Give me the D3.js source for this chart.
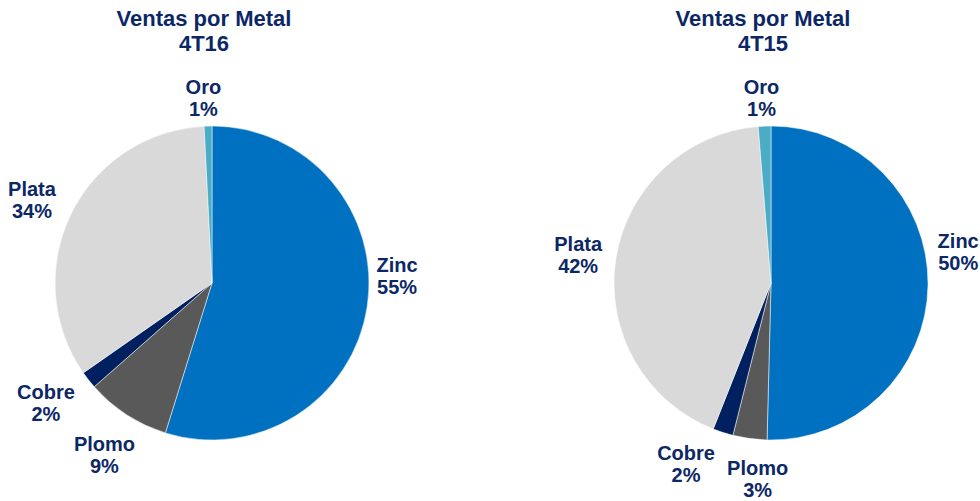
<!DOCTYPE html>
<html>
<head>
<meta charset="utf-8">
<script src="https://cdn.jsdelivr.net/npm/d3@7"></script>
<style>
  body { margin: 0; background: #fff; }
  text { font-family: "Liberation Sans", Arial, sans-serif; font-weight: bold; fill: #0c2766; }
</style>
</head>
<body>
<div id="chart"></div>
<script>
var svgWidth = 980;
var svgHeight = 501;

// Data (clockwise from 12 o'clock)
var metals = ["Zinc", "Plomo", "Cobre", "Plata", "Oro"];
var values4T16 = [54.8, 8.7, 1.8, 33.9, 0.8];
var values4T15 = [50.4, 3.5, 2.1, 42.7, 1.3];
var labels4T16 = ["55%", "9%", "2%", "34%", "1%"];
var labels4T15 = ["50%", "3%", "2%", "42%", "1%"];
var colors = ["#0070c0", "#595959", "#002060", "#d9d9d9", "#4bacc6"];

var radius = 157;

var svg = d3.select("#chart")
    .append("svg")
    .attr("width", svgWidth)
    .attr("height", svgHeight);

var pie = d3.pie().sort(null).value(d => d.value);
var arc = d3.arc().innerRadius(0).outerRadius(radius);

// small tweaks to mimic Excel's "best fit" label placement
var nudge4T16 = [[-3, -35], [-1, 13], [-12, 3], [-4, 0], [-4, 4]];
var nudge4T15 = [[-3, -33], [13, 9], [-25, 1], [1, 0], [-2, 4]];

function drawPie(cx, cy, titleX, period, values, labels, nudge) {
    var data = metals.map((m, i) => ({ name: m, value: values[i], label: labels[i], i: i }));

    var title = svg.append("text")
        .attr("x", titleX)
        .attr("y", 26)
        .attr("text-anchor", "middle")
        .style("font-size", "22px");
    title.append("tspan").attr("x", titleX).text("Ventas por Metal");
    title.append("tspan").attr("x", titleX).attr("dy", 25).text(period);

    var g = svg.append("g")
        .attr("transform", `translate(${cx}, ${cy})`);

    var arcs = pie(data);

    g.selectAll("path")
        .data(arcs)
        .enter()
        .append("path")
        .attr("d", arc)
        .attr("fill", d => colors[d.data.i])
        .attr("stroke", "#ffffff")
        .attr("stroke-width", 0.5);

    var fontSize = 20;
    var lineH = 22;

    g.selectAll("text.lbl")
        .data(arcs)
        .enter()
        .append("text")
        .attr("class", "lbl")
        .attr("text-anchor", "middle")
        .style("font-size", fontSize + "px")
        .each(function(d) {
            var a = (d.startAngle + d.endAngle) / 2;
            var sx = Math.sin(a), sy = -Math.cos(a);
            var px = sx * (radius + 10), py = sy * (radius + 10);
            var el = d3.select(this);
            el.append("tspan").text(d.data.name);
            el.append("tspan").attr("dy", lineH).text(d.data.label);
            var w = d3.max([d.data.name, d.data.label], t => t.length) * fontSize * 0.58;
            var h = 44;
            var x = px + sx * w / 2 + nudge[d.data.i][0];
            var y = py + sy * h / 2 + nudge[d.data.i][1];
            el.selectAll("tspan").attr("x", x);
            el.attr("y", y - 4);
        });
}

drawPie(212, 283, 204, "4T16", values4T16, labels4T16, nudge4T16);
drawPie(771, 283, 763, "4T15", values4T15, labels4T15, nudge4T15);
</script>
</body>
</html>
